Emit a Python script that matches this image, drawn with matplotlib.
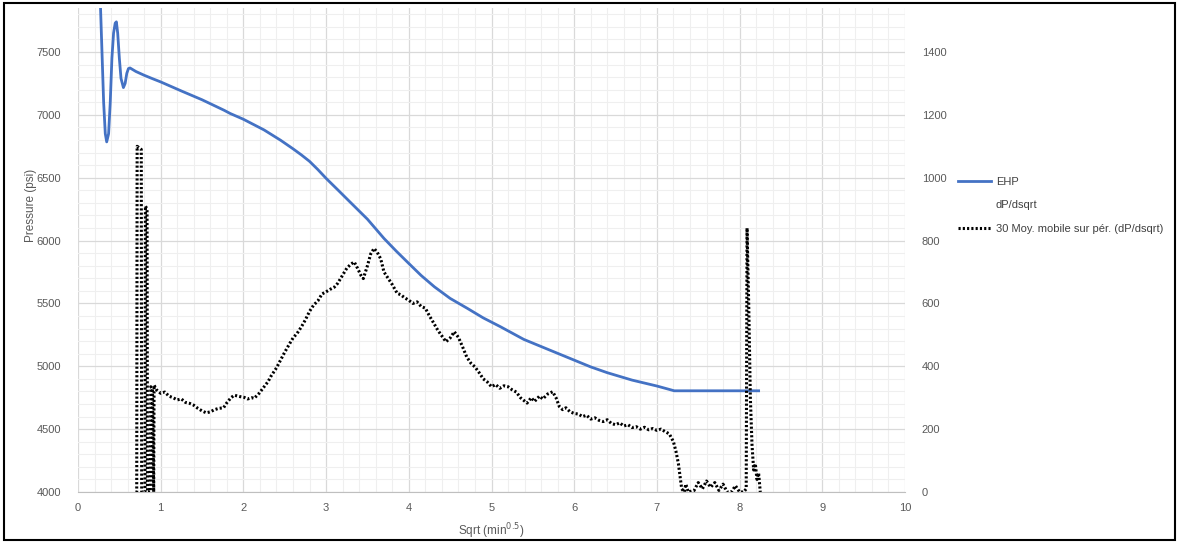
import numpy as np
import matplotlib.pyplot as plt
from matplotlib.lines import Line2D
from matplotlib.ticker import MultipleLocator

plt.rcParams['font.family'] = ['Liberation Sans', 'DejaVu Sans']

## Data
# EHP (left axis, psi)
ehp_x = [0.27, 0.29, 0.31, 0.33, 0.347, 0.37, 0.39, 0.41, 0.43, 0.45, 0.464, 0.48,
         0.50, 0.52, 0.549, 0.57, 0.59, 0.61, 0.629, 0.70, 0.80, 0.90, 1.00, 1.25,
         1.50, 1.765, 1.84, 2.00, 2.25, 2.45, 2.60, 2.70, 2.80, 2.90, 3.00, 3.15,
         3.30, 3.50, 3.70, 3.85, 4.00, 4.15, 4.31, 4.50, 4.71, 4.90, 5.11, 5.39,
         5.70, 6.00, 6.20, 6.40, 6.70, 7.00, 7.10, 7.21, 8.23]
ehp_y = [7900, 7500, 7100, 6850, 6785, 6850, 7100, 7450, 7650, 7730, 7740, 7650,
         7450, 7290, 7217, 7250, 7330, 7368, 7373, 7345, 7315, 7288, 7262, 7190,
         7120, 7037, 7011, 6965, 6880, 6798, 6730, 6682, 6630, 6565, 6495, 6398,
         6300, 6170, 6017, 5915, 5818, 5722, 5632, 5540, 5460, 5385, 5314, 5214,
         5130, 5049, 4995, 4949, 4890, 4843, 4825, 4805, 4805]

# 30 Moy. mobile sur pér. (dP/dsqrt) (right axis)
ma_x = [0.70, 0.71, 0.715, 0.765, 0.77, 0.81, 0.815, 0.835, 0.84, 0.875, 0.88,
        0.90, 0.915, 0.92, 0.95,
        1.00, 1.05, 1.10, 1.15, 1.20, 1.25, 1.30, 1.35, 1.40, 1.45, 1.50, 1.55,
        1.60, 1.65, 1.70, 1.76, 1.80, 1.85, 1.89, 1.95, 2.01, 2.05, 2.10, 2.13,
        2.19, 2.25, 2.30, 2.33, 2.40, 2.45, 2.50, 2.55, 2.60, 2.65, 2.70, 2.75,
        2.80, 2.85, 2.90, 2.95, 3.00, 3.05, 3.10, 3.14, 3.20, 3.25, 3.30, 3.34,
        3.38, 3.42, 3.45, 3.50, 3.54, 3.58, 3.62, 3.66, 3.70, 3.75, 3.80, 3.86,
        3.90, 3.95, 4.00, 4.05, 4.10, 4.15, 4.20, 4.25, 4.30, 4.35, 4.39, 4.45,
        4.50, 4.55, 4.60, 4.65, 4.70, 4.75, 4.80, 4.85, 4.90, 4.95, 5.00, 5.05,
        5.10, 5.15, 5.20, 5.25, 5.30, 5.35, 5.43, 5.48, 5.52, 5.58, 5.62, 5.68,
        5.74, 5.78, 5.82, 5.86, 5.90, 5.95, 6.00, 6.05, 6.10, 6.15, 6.20, 6.25,
        6.30, 6.35, 6.40, 6.45, 6.50, 6.55, 6.60, 6.65, 6.70, 6.75, 6.80, 6.85,
        6.90, 6.95, 7.00, 7.05, 7.10, 7.15, 7.20, 7.23, 7.26, 7.28, 7.30, 7.33,
        7.35, 7.38, 7.45, 7.50, 7.55, 7.60, 7.65, 7.70, 7.75, 7.80, 7.85, 7.90,
        7.95, 8.00, 8.05, 8.08, 8.09, 8.11, 8.13, 8.15, 8.17, 8.19, 8.21, 8.23,
        8.25]
ma_y = [0, 0, 1100, 1090, 0, 0, 910, 900, 0, 0, 335,
        330, 0, 340, 325,
        314, 318, 305, 300, 293, 296, 285, 282, 276, 266, 258, 252,
        255, 262, 266, 268, 284, 300, 308, 304, 301, 296, 300, 298,
        314, 335, 352, 367, 395, 420, 445, 468, 490, 505, 525, 548,
        575, 595, 608, 630, 637, 645, 652, 664, 690, 712, 725, 732,
        712, 690, 679, 720, 758, 775, 762, 742, 700, 680, 660, 632,
        628, 618, 610, 600, 605, 590, 585, 560, 538, 515, 500, 478,
        490, 510, 492, 462, 430, 410, 398, 380, 360, 350, 335, 342,
        330, 338, 335, 325, 318, 300, 283, 300, 288, 305, 296, 312,
        319, 300, 272, 262, 268, 255, 250, 248, 240, 244, 232, 236,
        228, 224, 230, 218, 214, 220, 210, 214, 205, 208, 200, 206,
        198, 202, 196, 200, 192, 185, 160, 130, 90, 50, 10, 0,
        25, 0, 5, 30, 10, 35, 15, 30, 5, 25, 0, 0,
        20, 0, 0, 10, 840, 600, 300, 150, 70, 90, 40, 60,
        0]

x_ticks = np.arange(0, 11, 1)
left_ticks = [4000, 4500, 5000, 5500, 6000, 6500, 7000, 7500]
right_ticks = [0, 200, 400, 600, 800, 1000, 1200, 1400]

## Figure
fig = plt.figure(figsize=(11.79, 5.43), dpi=100)
ax = fig.add_axes([78 / 1179, 1 - 492 / 543, 827 / 1179, 484 / 543])
ax2 = ax.twinx()

ax.plot(ehp_x, ehp_y, color='#4472C4', lw=2.0, zorder=3)
ax2.plot(ma_x, ma_y, color='black', lw=2.2, linestyle=(0, (0.7, 0.7)), zorder=3)

ax.set_xlim(0, 10)
ax.set_ylim(4000, 7850)
ax2.set_ylim(0, 1540)
ax.set_xticks(x_ticks)
ax.set_yticks(left_ticks)
ax2.set_yticks(right_ticks)
ax.xaxis.set_minor_locator(MultipleLocator(0.2))
ax.yaxis.set_minor_locator(MultipleLocator(100))

ax.grid(which='major', color='#D9D9D9', lw=0.9)
ax.grid(which='minor', color='#EFEFEF', lw=0.8)
ax.set_axisbelow(True)

for a in (ax, ax2):
    for s in a.spines.values():
        s.set_visible(False)
    a.tick_params(which='both', length=0, labelsize=8, colors='#595959')
ax.spines['bottom'].set_visible(True)
ax.spines['bottom'].set_color('#BFBFBF')
ax.tick_params(axis='x', pad=8)
ax.tick_params(axis='y', pad=12)
ax2.tick_params(axis='y', pad=12)

ax.set_xlabel('Sqrt (min$^{0.5}$)', fontsize=8.5, color='#595959', labelpad=6)
fig.text(31 / 1179, 1 - 205 / 543, 'Pressure (psi)', rotation=90, fontsize=8.5,
         color='#595959', ha='center', va='center')

handles = [Line2D([], [], color='#4472C4', lw=2.0),
           Line2D([], [], linestyle='none'),
           Line2D([], [], color='black', lw=2.2, linestyle=(0, (0.7, 0.7)))]
labels = ['EHP', 'dP/dsqrt', '30 Moy. mobile sur pér. (dP/dsqrt)']
fig.legend(handles, labels, loc='upper left', bbox_to_anchor=(948 / 1179, 1 - 167 / 543),
           frameon=False, fontsize=8, labelspacing=1.2, handlelength=3.0,
           handletextpad=0.4, labelcolor='#404040')

# outer frame
fig.patches.append(plt.Rectangle((0.003, 0.005), 0.994, 0.99, transform=fig.transFigure,
                                 fill=False, edgecolor='black', lw=1.5))

plt.savefig('out.png', dpi=100)
